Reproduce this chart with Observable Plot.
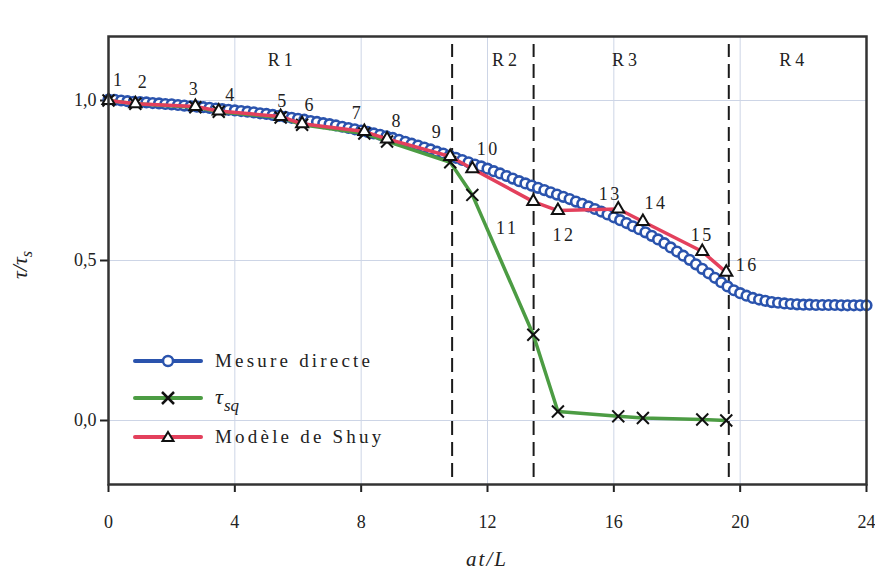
<!DOCTYPE html>
<html><head><meta charset="utf-8">
<script src="https://cdn.jsdelivr.net/npm/d3@7"></script>
<script src="https://cdn.jsdelivr.net/npm/@observablehq/plot@0.6"></script>
<style>
body{margin:0;background:#fff;}
#chart{width:875px;height:574px;}
</style></head><body><div id="chart"></div>
<script>
// Numbered points (Shuy model and tau_sq share abscissae)
const pointIds = [1,2,3,4,5,6,7,8,9,10,11,12,13,14,15,16];
const pointX = [0, 0.85, 2.75, 3.49, 5.45, 6.13, 8.1, 8.82, 10.82, 11.52, 13.45, 14.23, 16.14, 16.92, 18.8, 19.56];
const shuyY = [1.0, 0.99, 0.981, 0.967, 0.95, 0.927, 0.903, 0.88, 0.825, 0.787, 0.684, 0.656, 0.661, 0.622, 0.528, 0.463];
const tauSqY = [1.0, 0.99, 0.979, 0.965, 0.947, 0.924, 0.897, 0.872, 0.807, 0.705, 0.268, 0.028, 0.013, 0.008, 0.003, 0.0];

// Mesure directe (dense circles)
const mesureX = [0,0.2,0.4,0.6,0.8,1,1.2,1.4,1.6,1.8,2,2.2,2.4,2.6,2.8,3,3.2,3.4,3.6,3.8,4,4.2,4.4,4.6,4.8,5,5.2,5.4,5.6,5.8,6,6.2,6.4,6.6,6.8,7,7.2,7.4,7.6,7.8,8,8.2,8.4,8.6,8.8,9,9.2,9.4,9.6,9.8,10,10.2,10.4,10.6,10.8,11,11.2,11.4,11.6,11.8,12,12.2,12.4,12.6,12.8,13,13.2,13.4,13.6,13.8,14,14.2,14.4,14.6,14.8,15,15.2,15.4,15.6,15.8,16,16.2,16.4,16.6,16.8,17,17.2,17.4,17.6,17.8,18,18.2,18.4,18.6,18.8,19,19.2,19.4,19.6,19.8,20,20.2,20.4,20.6,20.8,21,21.2,21.4,21.6,21.8,22,22.2,22.4,22.6,22.8,23,23.2,23.4,23.6,23.8,24];
const mesureY = [1.003,1.002,1.000,0.998,0.996,0.995,0.994,0.992,0.991,0.989,0.988,0.986,0.984,0.982,0.981,0.979,0.977,0.975,0.973,0.971,0.969,0.967,0.965,0.963,0.960,0.958,0.955,0.952,0.949,0.946,0.943,0.940,0.936,0.933,0.929,0.926,0.922,0.918,0.914,0.910,0.906,0.902,0.897,0.893,0.888,0.883,0.877,0.871,0.865,0.859,0.853,0.847,0.840,0.834,0.828,0.821,0.814,0.807,0.800,0.794,0.787,0.779,0.772,0.764,0.756,0.748,0.741,0.734,0.727,0.720,0.713,0.706,0.699,0.692,0.684,0.677,0.669,0.661,0.653,0.644,0.635,0.626,0.617,0.607,0.598,0.588,0.577,0.566,0.554,0.541,0.528,0.515,0.502,0.488,0.474,0.460,0.446,0.432,0.419,0.407,0.398,0.390,0.383,0.378,0.374,0.370,0.368,0.366,0.364,0.363,0.362,0.362,0.361,0.361,0.361,0.361,0.360,0.360,0.360,0.360,0.360];

const regionNames = ["R1","R2","R3","R4"];
const regionCenters = [5.5, 12.6, 16.4, 21.7];
const regionLevel = 1.125;
const boundaries = [10.88, 13.46, 19.64];
const xTicks = [0,4,8,12,16,20,24];
const yTicks = [0,0.5,1];
const legendLabels = ["Mesure directe", "τsq", "Modèle de Shuy"];

// label offsets (px) for point numbers
const labelDx = [9,7,-2,11,1,7,-8,9,-14,16,-26,6,-8,13,0,21];
const labelDy = [-20,-21,-17,-16,-15,-19,-18,-18,-24,-19,27,25,-15,-18,-16,-7];

const BLUE = "#2a53ad", GREEN = "#4c9c43", RED = "#e3405c", GRID = "#cdd5e6", INK = "#222";

const mesure = mesureX.map((x,i)=>({x, y:mesureY[i]}));
const shuy = pointIds.map((id,i)=>({id, x:pointX[i], y:shuyY[i], dx:labelDx[i], dy:labelDy[i]}));
const tauSq = pointIds.map((id,i)=>({id, x:pointX[i], y:tauSqY[i]}));
const regions = regionNames.map((n,i)=>({name:n, x:regionCenters[i], y:regionLevel}));
const fmt = d => d.toFixed(1).replace(".", ",");

const chart = Plot.plot({
  width: 875, height: 574,
  marginLeft: 108, marginRight: 9, marginTop: 36, marginBottom: 90,
  style: {fontFamily: "'Liberation Serif', serif", fontSize: "18px", background: "#fff", color: INK},
  x: {domain: [0, 24]},
  y: {domain: [-0.2, 1.2]},
  marks: [
    Plot.gridX(xTicks.slice(1, -1), {stroke: GRID, strokeOpacity: 1, strokeWidth: 1}),
    Plot.gridY(yTicks, {stroke: GRID, strokeOpacity: 1, strokeWidth: 1}),
    Plot.ruleX(boundaries, {y1: -0.2, y2: 1.2, insetTop: -7, insetBottom: -8, stroke: "#1a1a1a", strokeWidth: 2, strokeDasharray: "14,7"}),
    Plot.axisX({ticks: xTicks, tickSize: 8, tickPadding: 23, tickFormat: d => String(d), label: null, strokeWidth: 2, fontSize: 18}),
    Plot.axisY({ticks: yTicks, tickSize: 8, tickPadding: 4, tickFormat: fmt, label: null, strokeWidth: 2, fontSize: 18}),
    Plot.line(mesure, {x: "x", y: "y", stroke: BLUE, strokeWidth: 3}),
    Plot.dot(mesure, {x: "x", y: "y", r: 4.8, stroke: BLUE, strokeWidth: 2.6, fill: "white"}),
    Plot.line(tauSq, {x: "x", y: "y", stroke: GREEN, strokeWidth: 3.5}),
    Plot.dot(tauSq, {x: "x", y: "y", symbol: "times", r: 5.5, stroke: "#111", strokeWidth: 2}),
    Plot.line(shuy, {x: "x", y: "y", stroke: RED, strokeWidth: 3.5}),
    Plot.dot(shuy, {x: "x", y: "y", symbol: "triangle", r: 4.5, stroke: "#111", strokeWidth: 2, fill: "white"}),
    Plot.frame({stroke: "#333", strokeWidth: 2.5}),
    Plot.text(regions, {x: "x", y: "y", text: "name", fontSize: 18, fill: INK}),
    ...shuy.map(d => Plot.text([d], {x: "x", y: "y", text: d => String(d.id), dx: d.dx, dy: d.dy, fontSize: 18, fill: INK}))
  ]
});
document.getElementById("chart").appendChild(chart);

const svg = d3.select(chart);
// letter spacing for numeric and region labels
svg.selectAll("text").each(function(){
  const s = this.textContent;
  if (/^\d{2}$/.test(s) && !this.closest("g[aria-label='x-axis tick label']")) this.setAttribute("letter-spacing", "2.5");
  if (/^R\d$/.test(s)) this.setAttribute("letter-spacing", "4");
});

// Axis titles
const yl = svg.append("text")
  .attr("transform", "translate(27,265) rotate(-90)")
  .attr("text-anchor", "middle")
  .attr("font-family", "'Liberation Serif', serif")
  .attr("font-style", "italic").attr("font-size", 22).attr("fill", INK);
yl.append("tspan").text("τ/τ");
yl.append("tspan").attr("font-size", 16).attr("dy", 5).text("s");

svg.append("text")
  .attr("x", 487).attr("y", 566)
  .attr("text-anchor", "middle")
  .attr("font-family", "'Liberation Serif', serif")
  .attr("font-style", "italic").attr("font-size", 21).attr("letter-spacing", 2).attr("fill", INK)
  .text("at/L");

// Legend
const legendColors = [BLUE, GREEN, RED];
const rowY = [361, 398, 437];
const lg = svg.append("g").attr("text-anchor", "start");
legendLabels.forEach((lab, i) => {
  const y = rowY[i];
  lg.append("line").attr("x1", 135).attr("x2", 201).attr("y1", y).attr("y2", y)
    .attr("stroke", legendColors[i]).attr("stroke-width", 4).attr("stroke-linecap", "round");
  if (i === 0) {
    lg.append("circle").attr("cx", 168).attr("cy", y).attr("r", 5).attr("fill", "white").attr("stroke", BLUE).attr("stroke-width", 2.5);
  } else if (i === 1) {
    lg.append("path").attr("d", `M${162},${y-6}L${174},${y+6}M${162},${y+6}L${174},${y-6}`).attr("stroke", "#111").attr("stroke-width", 2.5);
  } else {
    lg.append("path").attr("d", `M${168},${y-5}L${173.5},${y+4}L${162.5},${y+4}Z`).attr("fill", "white").attr("stroke", "#111").attr("stroke-width", 2);
  }
  const t = lg.append("text").attr("x", 215).attr("y", y + 6).attr("text-anchor", "start")
    .attr("font-family", "'Liberation Serif', serif").attr("font-size", 19).attr("fill", INK);
  if (i === 1) {
    t.append("tspan").attr("font-style", "italic").attr("font-size", 22).text("τ");
    t.append("tspan").attr("font-style", "italic").attr("font-size", 17).attr("dy", 7).attr("dx", 1).text("sq");
  } else {
    t.attr("letter-spacing", 3.2).text(lab);
  }
});
</script>
</body></html>
